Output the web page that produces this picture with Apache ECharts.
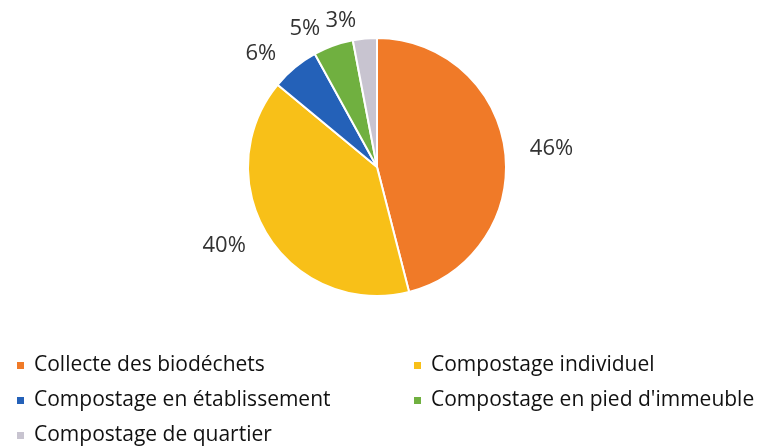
<!DOCTYPE html>
<html>
<head>
<meta charset="utf-8">
<script src="https://cdn.jsdelivr.net/npm/echarts@6/dist/echarts.min.js"></script>
<style>html,body{margin:0;padding:0;background:#fff}#c{width:765px;height:446px}</style>
</head>
<body>
<div id="c"></div>
<script>
const categories = ["Collecte des biodéchets", "Compostage individuel", "Compostage en établissement", "Compostage en pied d'immeuble", "Compostage de quartier"];
const values = [46, 40, 6, 5, 3];
const colors = ["#F07A28", "#F8C018", "#2461B8", "#70B040", "#C8C4D0"];
const legendCol1 = [categories[0], categories[2], categories[4]];
const legendCol2 = [categories[1], categories[3]];

const FONT = "Open Sans";
const chart = echarts.init(document.getElementById('c'));
const legendCommon = {
  orient: 'vertical',
  top: 355,
  height: 92,
  padding: 0,
  icon: 'rect',
  itemWidth: 9,
  itemHeight: 9,
  itemGap: 14,
  selectedMode: false,
  textStyle: { fontFamily: FONT, fontSize: 21, lineHeight: 21, color: '#111', padding: [0, 0, 0, 4] }
};
chart.setOption({
  animation: false,
  color: colors,
  legend: [
    Object.assign({}, legendCommon, { left: 15, data: legendCol1 }),
    Object.assign({}, legendCommon, { left: 412, data: legendCol2 })
  ],
  series: [{
    type: 'pie',
    center: [377, 167],
    radius: 129,
    startAngle: 90,
    clockwise: true,
    avoidLabelOverlap: false,
    itemStyle: { borderColor: '#fff', borderWidth: 2 },
    label: {
      show: true,
      position: 'outside',
      formatter: '{d}%',
      fontFamily: FONT,
      fontSize: 22,
      color: '#333'
    },
    labelLine: { show: false, length: 18, length2: 2 },
    data: categories.map((n, i) => ({ name: n, value: values[i] }))
  }]
});
</script>
</body>
</html>
